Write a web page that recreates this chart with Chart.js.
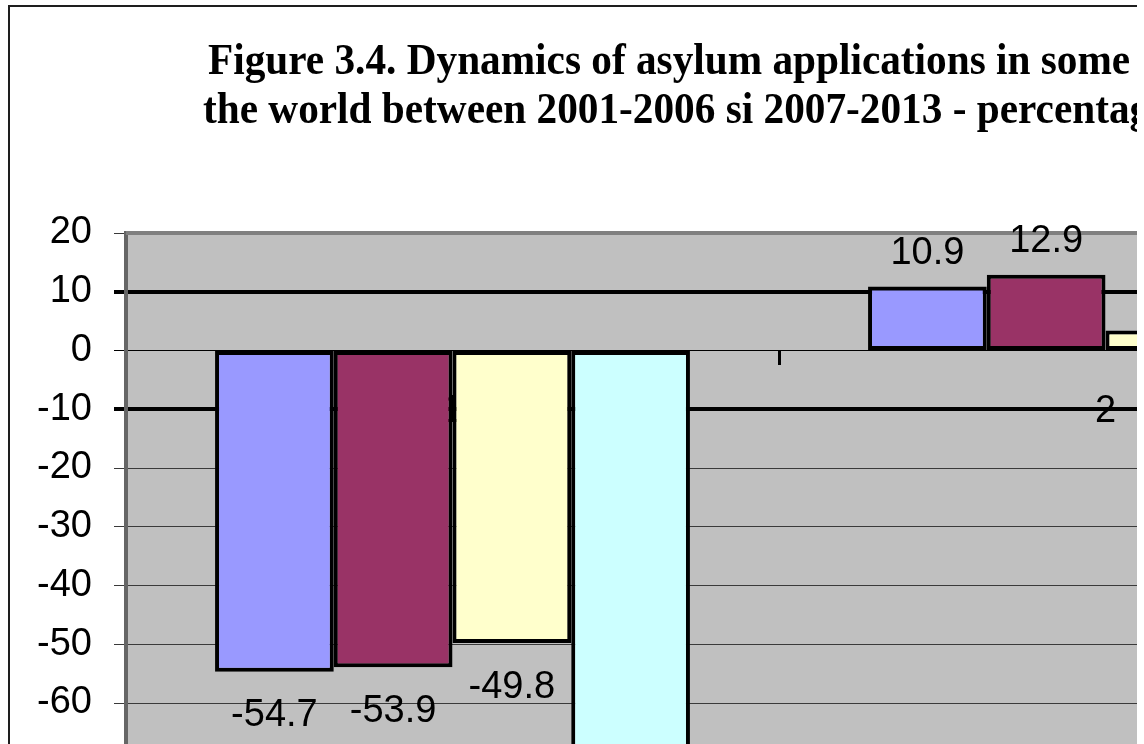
<!DOCTYPE html>
<html>
<head>
<meta charset="utf-8">
<script src="https://cdn.jsdelivr.net/npm/chart.js@4/dist/chart.umd.min.js"></script>
<style>
  html, body { margin: 0; padding: 0; background: #fff; }
  #clip { position: absolute; left: 0; top: 0; width: 1137px; height: 744px; overflow: hidden; background: #fff; }
  #frame { position: absolute; left: 8px; top: 5px; width: 1500px; height: 1000px; border: 2px solid #1e1e1e; }
  #chart { position: absolute; left: 0; top: 0; }
</style>
</head>
<body>
<div id="clip">
  <div id="frame"></div>
  <canvas id="chart" width="1460" height="1000"></canvas>
</div>
<script>
//values
const categories = ['1', '2'];
const seriesNames = ['Series 1', 'Series 2', 'Series 3', 'Series 4'];
const series1 = [-54.7, 10.9];
const series2 = [-53.9, 12.9];
const series3 = [-49.8, 3.4];
const series4 = [-71.3, 6.2]; //mostly hidden in the picture, estimated
const seriesColors = ['#9999FF', '#993366', '#FFFFCC', '#CCFFFF'];
const yTicks = [20, 10, 0, -10, -20, -30, -40, -50, -60, -70, -80];
const titleLines = [
    'Figure 3.4. Dynamics of asylum applications in some',
    'the world between 2001-2006 si 2007-2013 - percentage'
];

const sansFont = "'Liberation Sans', Arial, sans-serif";

//grey plot area like the old excel charts
const plotBg = {
    id: 'plotBg',
    beforeDraw(chart) {
        const { ctx, chartArea: a } = chart;
        ctx.save();
        ctx.fillStyle = '#C0C0C0';
        ctx.fillRect(a.left, a.top, a.right - a.left, a.bottom - a.top);
        ctx.restore();
    },
    beforeDatasetsDraw(chart) {
        const { ctx, chartArea: a } = chart;
        ctx.save();
        ctx.strokeStyle = '#808080';
        ctx.lineWidth = 4;
        ctx.beginPath();
        ctx.moveTo(a.left, a.top);
        ctx.lineTo(a.right, a.top);
        ctx.lineTo(a.right, a.bottom);
        ctx.stroke();
        ctx.restore();
    }
};

//two line title, the figure's serif looks a bit squeezed so scale it a little
const figTitle = {
    id: 'figTitle',
    beforeDraw(chart) {
        const ctx = chart.ctx;
        const squeeze = 0.938;
        ctx.save();
        ctx.fillStyle = '#000';
        ctx.font = "bold 44px 'Liberation Serif', 'Times New Roman', serif";
        ctx.textAlign = 'left';
        ctx.textBaseline = 'alphabetic';
        ctx.scale(squeeze, 1);
        ctx.fillText(titleLines[0], 208 / squeeze, 74);
        ctx.fillText(titleLines[1], 203 / squeeze, 123);
        ctx.restore();
    }
};

//value labels outside the bar ends
const valueLabels = {
    id: 'valueLabels',
    afterDatasetsDraw(chart) {
        const ctx = chart.ctx;
        ctx.save();
        ctx.fillStyle = '#000';
        ctx.font = '38px ' + sansFont;
        ctx.textAlign = 'center';
        ctx.textBaseline = 'middle';
        chart.data.datasets.forEach((ds, i) => {
            chart.getDatasetMeta(i).data.forEach((bar, j) => {
                const v = ds.data[j];
                const y = v >= 0 ? bar.y - 33 : bar.y + 44;
                ctx.fillText(v.toFixed(1), bar.x, y);
            });
        });
        ctx.restore();
    }
};

const allSeries = [series1, series2, series3, series4];

new Chart(document.getElementById('chart'), {
    type: 'bar',
    data: {
        labels: categories,
        datasets: allSeries.map((vals, i) => ({
            label: seriesNames[i],
            data: vals,
            backgroundColor: seriesColors[i],
            borderColor: '#000',
            borderWidth: 4,
            borderSkipped: false,
            categoryPercentage: 4 / 5.5,
            barPercentage: 1
        }))
    },
    options: {
        responsive: false,
        animation: false,
        layout: { padding: { top: 233, bottom: 179.5, left: 0, right: 28 } },
        plugins: {
            legend: { display: false },
            title: { display: false },
            tooltip: { enabled: false }
        },
        scales: {
            x: {
                type: 'category',
                position: { y: 0 },
                offset: true,
                z: 1,
                afterFit: (s) => { s.height = 0; },
                grid: {
                    offset: true,
                    drawOnChartArea: false,
                    drawTicks: true,
                    tickLength: 14,
                    color: '#000',
                    lineWidth: 3
                },
                border: { display: true, color: '#000', width: 1 },
                ticks: {
                    color: '#000',
                    font: { family: sansFont, size: 38 },
                    padding: 24,
                    maxRotation: 0
                }
            },
            y: {
                min: yTicks[yTicks.length - 1],
                max: yTicks[0],
                afterFit: (s) => { s.width = 126; },
                afterBuildTicks: (s) => { s.ticks = yTicks.map(v => ({ value: v })); },
                grid: {
                    drawTicks: true,
                    tickLength: 12,
                    color: (c) => (c.tick && (c.tick.value === 10 || c.tick.value === -10 || c.tick.value === 0)) ? '#000' : '#3a3a3a',
                    lineWidth: (c) => (c.tick && (c.tick.value === 10 || c.tick.value === -10)) ? 4 : 1
                },
                border: { display: true, color: '#666', width: 4 },
                ticks: {
                    color: '#000',
                    font: { family: sansFont, size: 38 },
                    padding: 22
                }
            }
        }
    },
    plugins: [plotBg, figTitle, valueLabels]
});
</script>
</body>
</html>
